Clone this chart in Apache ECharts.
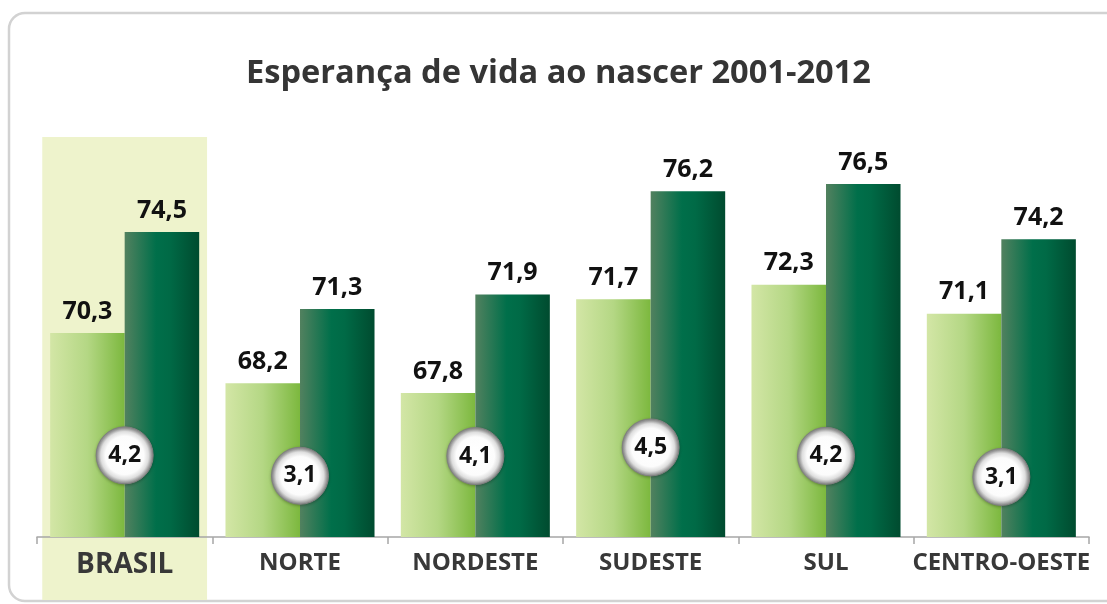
<!DOCTYPE html>
<html>
<head>
<meta charset="utf-8">
<script src="https://cdn.jsdelivr.net/npm/echarts@6/dist/echarts.min.js"></script>
<style>
  html, body { margin: 0; padding: 0; background: #fff; }
  #chart { width: 1107px; height: 604px; }
</style>
</head>
<body>
<div id="chart"></div>
<script>
// dados
var regioes = ["BRASIL", "NORTE", "NORDESTE", "SUDESTE", "SUL", "CENTRO-OESTE"];
var ev2001 = [70.3, 68.2, 67.8, 71.7, 72.3, 71.1];
var ev2012 = [74.5, 71.3, 71.9, 76.2, 76.5, 74.2];
var ganho = [4.2, 3.1, 4.1, 4.5, 4.2, 3.1];
// altura (em anos do eixo) onde fica cada bolinha
var nivelBolinha = [65.2, 64.35, 65.17, 65.53, 65.18, 64.3];

var fonte = "'Open Sans', 'Liberation Sans', sans-serif";

function virgula(v) {
  return String(v.toFixed(1)).replace(".", ",");
}

var chart = echarts.init(document.getElementById("chart"), null, { renderer: "canvas" });

var option = {
  animation: false,
  backgroundColor: "#ffffff",
  title: {
    text: "Esperança de vida ao nascer 2001-2012",
    left: 241,
    top: 52,
    textStyle: {
      fontFamily: fonte,
      fontSize: 32.6,
      fontWeight: "bold",
      color: "#353535"
    }
  },
  grid: {
    left: 37,
    right: 18,
    top: 148,
    bottom: 67
  },
  xAxis: {
    type: "category",
    data: regioes,
    axisLine: { lineStyle: { color: "#a6a6a6", width: 1.5 } },
    axisTick: { show: true, length: 7, lineStyle: { color: "#a6a6a6", width: 1.5 } },
    axisLabel: {
      interval: 0,
      margin: 14,
      formatter: function (v) {
        return v === "BRASIL" ? "{b|" + v + "}" : "{n|" + v + "}";
      },
      rich: {
        b: { fontFamily: fonte, fontWeight: "bold", fontSize: 28, color: "#383838" },
        n: { fontFamily: fonte, fontWeight: "bold", fontSize: 24, color: "#383838" }
      }
    }
  },
  yAxis: {
    type: "value",
    min: 61.8,
    max: 78,
    show: false,
    splitLine: { show: false }
  },
  series: [
    {
      name: "2001",
      type: "bar",
      data: ev2001,
      barGap: "0%",
      barCategoryGap: "15%",
      z: 3,
      itemStyle: {
        color: new echarts.graphic.LinearGradient(0, 0, 1, 0, [
          { offset: 0, color: "#d3e6a6" },
          { offset: 0.5, color: "#b4d784" },
          { offset: 1, color: "#7cb83e" }
        ])
      },
      label: {
        show: true,
        position: "top",
        distance: 9,
        fontFamily: fonte,
        fontWeight: "bold",
        fontSize: 25,
        color: "#111",
        formatter: function (p) { return virgula(p.value); }
      }
    },
    {
      name: "2012",
      type: "bar",
      data: ev2012,
      z: 3,
      itemStyle: {
        color: new echarts.graphic.LinearGradient(0, 0, 1, 0, [
          { offset: 0, color: "#52815f" },
          { offset: 0.42, color: "#006f4a" },
          { offset: 0.6, color: "#006a46" },
          { offset: 1, color: "#004b2f" }
        ])
      },
      label: {
        show: true,
        position: "top",
        distance: 9,
        fontFamily: fonte,
        fontWeight: "bold",
        fontSize: 25,
        color: "#111",
        formatter: function (p) { return virgula(p.value); }
      }
    },
    {
      name: "ganho",
      type: "scatter",
      z: 5,
      symbol: "circle",
      symbolSize: 57,
      data: nivelBolinha.map(function (y, i) { return [i, y, ganho[i]]; }),
      itemStyle: {
        opacity: 1,
        color: new echarts.graphic.RadialGradient(0.5, 0.5, 0.5, [
          { offset: 0, color: "#ffffff" },
          { offset: 0.66, color: "#fcfcfc" },
          { offset: 0.82, color: "#dedede" },
          { offset: 0.93, color: "#a0a0a0" },
          { offset: 1, color: "#8c8c8c" }
        ]),
        borderColor: "#808080",
        borderWidth: 1,
        shadowColor: "rgba(0,0,0,0.25)",
        shadowBlur: 3,
        shadowOffsetY: 1
      },
      label: {
        show: true,
        position: "inside",
        fontFamily: fonte,
        fontWeight: "bold",
        fontSize: 23,
        color: "#111",
        formatter: function (p) { return virgula(p.value[2]); }
      }
    }
  ]
};

chart.setOption(option);

// moldura e destaque do BRASIL
var cx = chart.convertToPixel({ xAxisIndex: 0 }, "BRASIL");
var banda = chart.convertToPixel({ xAxisIndex: 0 }, "NORTE") - cx;
var largura = banda * 0.94;

chart.setOption({
  graphic: [
    {
      type: "rect",
      z: -10,
      silent: true,
      shape: { x: 9, y: 13, width: 1140, height: 588, r: 16 },
      style: { fill: "none", stroke: "#d2d2d2", lineWidth: 2.5 }
    },
    {
      type: "rect",
      z: -9,
      silent: true,
      shape: { x: cx - largura / 2, y: 137, width: largura, height: 463 },
      style: { fill: "#eef3cc" }
    }
  ]
});
</script>
</body>
</html>
